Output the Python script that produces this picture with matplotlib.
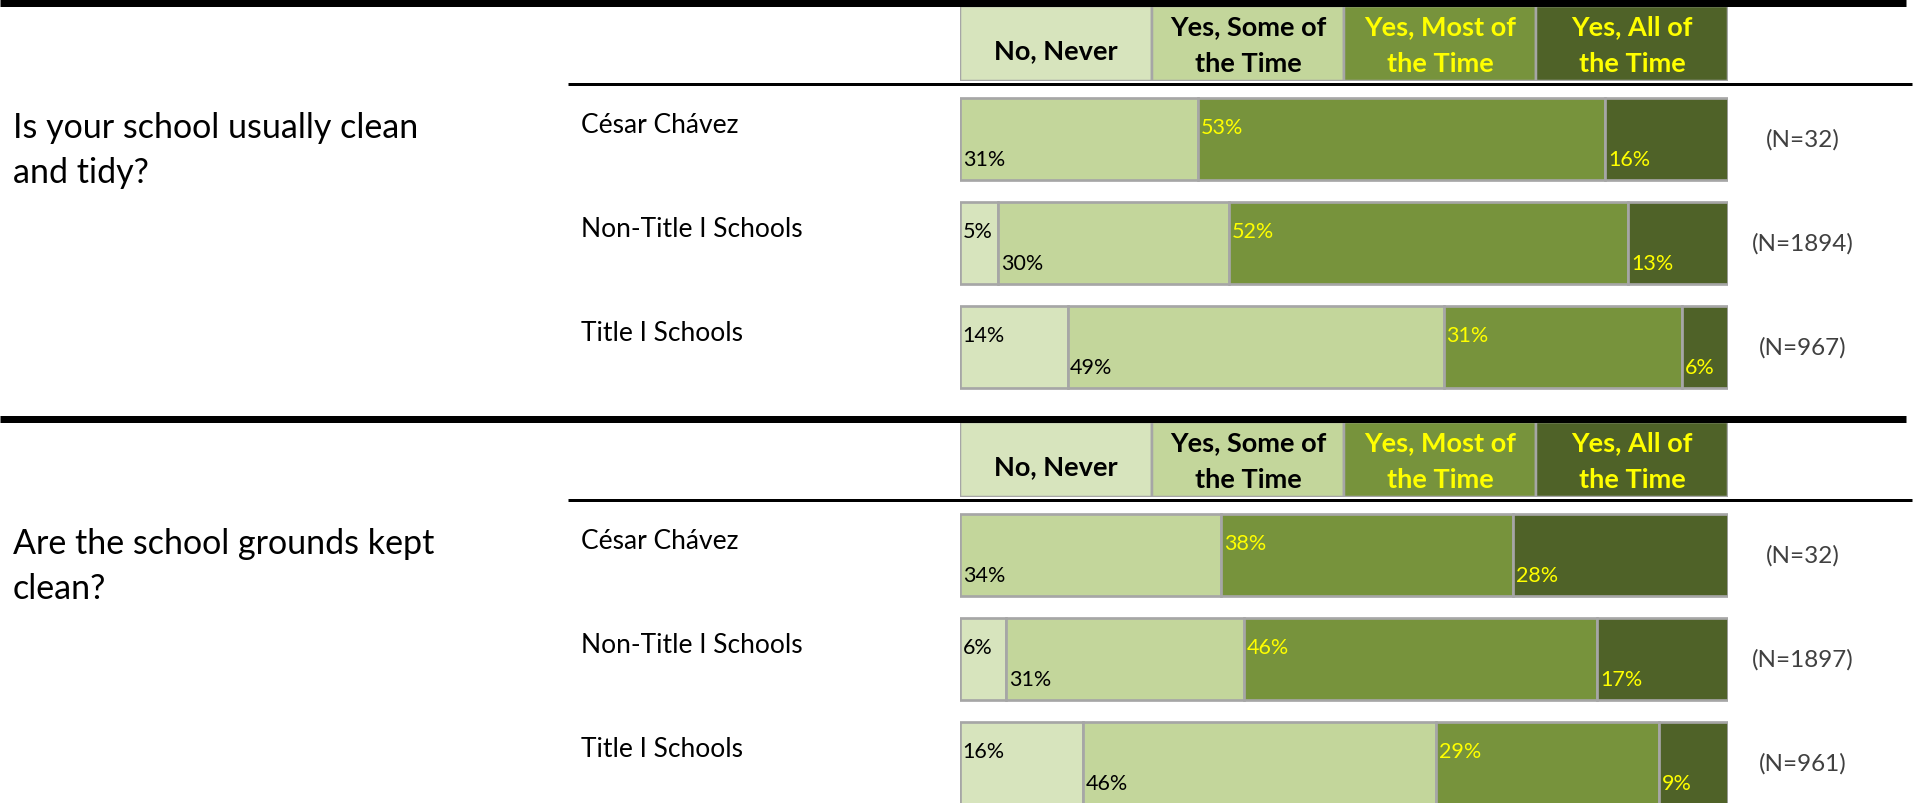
import matplotlib
matplotlib.use('Agg')
import matplotlib.pyplot as plt
import numpy as np
from matplotlib import transforms
from matplotlib.lines import Line2D

# answer categories (header cells)
categories = ['No, Never', 'Yes, Some of\nthe Time', 'Yes, Most of\nthe Time', 'Yes, All of\nthe Time']
groups = ['César Chávez', 'Non-Title I Schools', 'Title I Schools']

questions = ['Is your school usually clean\nand tidy?', 'Are the school grounds kept\nclean?']
clean_tidy = [[0, 31, 53, 16], [5, 30, 52, 13], [14, 49, 31, 6]]
grounds_clean = [[0, 34, 38, 28], [6, 31, 46, 17], [16, 46, 29, 9]]
n_clean_tidy = [32, 1894, 967]
n_grounds_clean = [32, 1897, 961]

fill_colors = ['#d7e4bd', '#c3d69b', '#77933c', '#4f6228']
text_colors = ['black', 'black', '#ffff00', '#ffff00']
edge_gray = '#a6a6a6'

plt.rcParams['font.family'] = ['Lato', 'DejaVu Sans']

W, H = 1916, 804
fig = plt.figure(figsize=(W / 100, H / 100), dpi=100)

def fx(px):
    return px / W

def fy(py):
    return 1 - py / H

def px_lw(px):
    return px * 0.72

blocks = [(questions[0], clean_tidy, n_clean_tidy), (questions[1], grounds_clean, n_grounds_clean)]

for b, (question, values, ns) in enumerate(blocks):
    off = 416 * b

    # thick rule on top of the block and thin rule under the header
    fig.add_artist(Line2D([0, fx(1906)], [fy(off + 3.5)] * 2, transform=fig.transFigure,
                          color='black', lw=px_lw(7), solid_capstyle='butt'))
    fig.add_artist(Line2D([fx(568), fx(1912)], [fy(off + 84.5)] * 2, transform=fig.transFigure,
                          color='black', lw=px_lw(3), solid_capstyle='butt'))

    # header cells
    hax = fig.add_axes([fx(960), fy(off + 82), fx(1728) - fx(960), (82 - 7) / H])
    hax.bar(np.arange(len(categories)) + 0.5, 1, width=1, color=fill_colors,
            edgecolor=edge_gray, linewidth=px_lw(2.5))
    hax.set_xlim(0, len(categories))
    hax.set_ylim(0, 1)
    hax.axis('off')
    htrans = transforms.blended_transform_factory(hax.transData, fig.transFigure)
    for i, cat in enumerate(categories):
        lines = cat.split('\n')
        bases = [59] if len(lines) == 1 else [35, 72]
        for line, base in zip(lines, bases):
            hax.text(i + 0.5, fy(off + base), line, transform=htrans, ha='center', va='baseline',
                     fontsize=19.5, fontweight='bold', color=text_colors[i])

    # stacked bars
    ax = fig.add_axes([fx(960), fy(off + 400), fx(1728) - fx(960), 312 / H])
    vals = np.array(values, dtype=float)
    lefts = np.zeros(len(groups))
    y = np.arange(len(groups))
    for j in range(len(categories)):
        ax.barh(y, vals[:, j], left=lefts, height=0.78, color=fill_colors[j],
                edgecolor=edge_gray, linewidth=px_lw(2.7))
        for k in range(len(groups)):
            if vals[k, j] > 0:
                dy = -0.06 if j % 2 == 0 else 0.25
                ax.text(lefts[k] + 0.35, y[k] + dy, f'{int(vals[k, j])}%', ha='left', va='baseline',
                        fontsize=15.5, color=text_colors[j])
        lefts += vals[:, j]
    ax.set_xlim(0, 100)
    ax.set_ylim(len(groups) - 0.5, -0.5)
    ax.axis('off')

    rtrans = transforms.blended_transform_factory(fig.transFigure, ax.transData)
    for k, g in enumerate(groups):
        ax.text(fx(581), y[k] - 0.065, g, transform=rtrans, ha='left', va='baseline', fontsize=19)
        ax.text(fx(1803), y[k], f'(N={ns[k]})', transform=rtrans, ha='center', va='center',
                fontsize=17.5, color='#404040')

    qlines = question.split('\n')
    for li, line in enumerate(qlines):
        fig.text(fx(13), fy(off + 138 + 45 * li), line, ha='left', va='baseline', fontsize=24.5)

fig.savefig('out.png', dpi=100)
